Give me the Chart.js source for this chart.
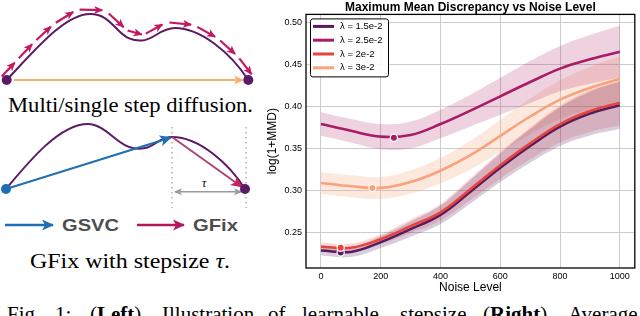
<!DOCTYPE html>
<html><head><meta charset="utf-8">
<script src="https://cdn.jsdelivr.net/npm/chart.js@4.4.1/dist/chart.umd.min.js"></script>
<style>
html,body{margin:0;padding:0;background:#fff;width:640px;height:316px;overflow:hidden;}
#wrap{position:relative;width:640px;height:316px;}
#art{position:absolute;left:0;top:0;}
#chartBox{position:absolute;left:262px;top:0;width:378px;height:296px;}
.serif{font-family:"Liberation Serif","Times New Roman",serif;fill:#000;}
.sansb{font-family:"Liberation Sans",Arial,sans-serif;font-weight:bold;fill:#4d4d4d;}
</style></head><body>
<div id="wrap">
<svg id="art" width="640" height="316" xmlns="http://www.w3.org/2000/svg">
<defs>
 <marker id="hMag" markerUnits="userSpaceOnUse" markerWidth="9" markerHeight="9" refX="8" refY="4.5" orient="auto"><path d="M0,0.5 L9,4.5 L0,8.5 L2.2,4.5 z" fill="#c51862"/></marker>
 <marker id="hOr" markerUnits="userSpaceOnUse" markerWidth="10" markerHeight="10" refX="9" refY="5" orient="auto"><path d="M0,0.5 L10,5 L0,9.5 L2.5,5 z" fill="#fdae6b"/></marker>
 <marker id="hBlue" markerUnits="userSpaceOnUse" markerWidth="12" markerHeight="12" refX="11" refY="6" orient="auto"><path d="M0,0.5 L12,6 L0,11.5 L3,6 z" fill="#1f6fb2"/></marker>
 <marker id="hFix" markerUnits="userSpaceOnUse" markerWidth="12" markerHeight="12" refX="11" refY="6" orient="auto"><path d="M0,0.5 L12,6 L0,11.5 L3,6 z" fill="#c8235f"/></marker>
 <marker id="hFixL" markerUnits="userSpaceOnUse" markerWidth="12" markerHeight="12" refX="11" refY="6" orient="auto"><path d="M0,0.5 L12,6 L0,11.5 L3,6 z" fill="#b3175c"/></marker>
 <marker id="hGr" markerUnits="userSpaceOnUse" markerWidth="8" markerHeight="8" refX="7" refY="4" orient="auto-start-reverse"><path d="M0,0.5 L8,4 L0,7.5 L2,4 z" fill="#9a9a9a"/></marker>
</defs>
<!-- top diagram -->
<path id="curve1" d="M6.7,80 C35,50 65,14 90,14 C104,14 110,22 118,30 C126,38 132,41 142,40.5 C154,40 160,28 175,28 C200,28 230,52 248.3,80" fill="none" stroke="#5c1a66" stroke-width="2"/>
<g id="dashArrows"></g>
<line x1="14" y1="80" x2="243" y2="80" stroke="#fdae6b" stroke-width="2" marker-end="url(#hOr)"/>
<circle cx="6.7" cy="80" r="5" fill="#5c1a66"/>
<circle cx="248.3" cy="80" r="5" fill="#5c1a66"/>
<text class="serif" x="8" y="112" font-size="21" textLength="245" lengthAdjust="spacingAndGlyphs">Multi/single step diffusion.</text>
<!-- bottom diagram -->
<line x1="172" y1="127" x2="172" y2="208" stroke="#b0b0b0" stroke-width="1.5" stroke-dasharray="1.5,3.5"/>
<line x1="246" y1="127" x2="246" y2="208" stroke="#b0b0b0" stroke-width="1.5" stroke-dasharray="1.5,3.5"/>
<path d="M6,189 C30,160 60,124 88,124 C100,124 110,135 120,142 C128,148 135,150 145,148 C155,146 160,137 172,137 C200,137 230,165 245,189" fill="none" stroke="#5c1a66" stroke-width="2"/>
<line x1="6" y1="189" x2="171" y2="137.5" stroke="#1f6fb2" stroke-width="2" marker-end="url(#hBlue)"/>
<line x1="172" y1="137" x2="242" y2="187" stroke="#b04470" stroke-width="2" marker-end="url(#hFix)"/>
<line x1="175" y1="191.7" x2="241" y2="191.7" stroke="#9a9a9a" stroke-width="1.5" marker-start="url(#hGr)" marker-end="url(#hGr)"/>
<text class="serif" x="202" y="187" font-size="12" font-style="italic">τ</text>
<circle cx="6" cy="189" r="5" fill="#1f6fb2"/>
<circle cx="245" cy="189" r="5" fill="#5c1a66"/>
<line x1="5" y1="225" x2="53" y2="225" stroke="#1f6fb2" stroke-width="2.5" marker-end="url(#hBlue)"/>
<text class="sansb" x="62" y="231" font-size="17" textLength="57" lengthAdjust="spacingAndGlyphs">GSVC</text>
<line x1="137" y1="225" x2="184" y2="225" stroke="#b3175c" stroke-width="2.5" marker-end="url(#hFixL)"/>
<text class="sansb" x="193" y="231" font-size="17" textLength="45" lengthAdjust="spacingAndGlyphs">GFix</text>
<text class="serif" x="30" y="268" font-size="21" textLength="200" lengthAdjust="spacingAndGlyphs">GFix with stepsize <tspan font-style="italic">τ</tspan>.</text>
<!-- caption (cut off) -->
<g class="serif" font-size="21">
 <text x="7" y="321">Fig.</text>
 <text x="55" y="321">1:</text>
 <text x="90" y="321">(<tspan font-weight="bold">Left</tspan>)</text>
 <text x="162" y="321">Illustration</text>
 <text x="268" y="321">of</text>
 <text x="302" y="321">learnable</text>
 <text x="400" y="321">stepsize.</text>
 <text x="483" y="321">(<tspan font-weight="bold">Right</tspan>)</text>
 <text x="568" y="321">Average</text>
</g>
</svg>
<div id="chartBox"><canvas id="c"></canvas></div>
</div>
<script>
// ---------- data ----------
const noiseLevels = [0, 100, 200, 300, 400, 500, 600, 700, 800, 900, 1000];
const mmdL15 = [0.2285, 0.2268, 0.2385, 0.2540, 0.2710, 0.2985, 0.3270, 0.3530, 0.3760, 0.3915, 0.4015];
const mmdL25 = [0.3790, 0.3710, 0.3640, 0.3660, 0.3790, 0.3950, 0.4120, 0.4290, 0.4450, 0.4560, 0.4650];
const mmdL20 = [0.2330, 0.2318, 0.2420, 0.2575, 0.2740, 0.3015, 0.3300, 0.3560, 0.3790, 0.3945, 0.4045];
const mmdL30 = [0.3088, 0.3050, 0.3030, 0.3100, 0.3235, 0.3420, 0.3650, 0.3880, 0.4080, 0.4220, 0.4330];
const stdL15 = [0.006, 0.006, 0.007, 0.009, 0.011, 0.014, 0.017, 0.020, 0.023, 0.026, 0.028];
const stdL25 = [0.014, 0.014, 0.015, 0.016, 0.017, 0.019, 0.022, 0.025, 0.027, 0.029, 0.031];
const stdL20 = [0.005, 0.005, 0.006, 0.008, 0.010, 0.013, 0.016, 0.019, 0.022, 0.025, 0.027];
const stdL30 = [0.013, 0.013, 0.013, 0.014, 0.015, 0.017, 0.019, 0.021, 0.023, 0.025, 0.027];
const seriesLabels = ['λ = 1.5e-2', 'λ = 2.5e-2', 'λ = 2e-2', 'λ = 3e-2'];
const minNoise = [66, 244, 66, 172];
const minMMD = [0.2262, 0.3627, 0.2317, 0.3028];
const xTicks = [0, 200, 400, 600, 800, 1000];
const yTicks = [0.25, 0.30, 0.35, 0.40, 0.45, 0.50];

// ---------- left illustration: dashed arrows along the curve ----------
(function(){
  const guide = document.getElementById('curve1');
  const g = document.getElementById('dashArrows');
  const L = guide.getTotalLength();
  const off = 6;
  function pt(s){
    const ss = Math.max(0, Math.min(L, s));
    const p = guide.getPointAtLength(ss);
    const a = guide.getPointAtLength(Math.max(0, ss - 0.8));
    const b = guide.getPointAtLength(Math.min(L, ss + 0.8));
    let tx = b.x - a.x, ty = b.y - a.y; const n = Math.hypot(tx, ty) || 1;
    tx /= n; ty /= n;
    const ext = s - ss;
    return {x: p.x + ty * off + tx * ext, y: p.y - tx * off + ty * ext};
  }
  const n = 12, seg = (L + 4) / n;
  for (let i = 0; i < n; i++) {
    const p0 = pt(-2 + i * seg + 1), p1 = pt(-2 + i * seg + seg * 0.8);
    const ln = document.createElementNS('http://www.w3.org/2000/svg', 'line');
    ln.setAttribute('x1', p0.x); ln.setAttribute('y1', p0.y);
    ln.setAttribute('x2', p1.x); ln.setAttribute('y2', p1.y);
    ln.setAttribute('stroke', '#c51862'); ln.setAttribute('stroke-width', '2.2');
    ln.setAttribute('marker-end', 'url(#hMag)');
    g.appendChild(ln);
  }
})();

// ---------- chart ----------
const colors = ['#561d5c', '#a81c65', '#e7433f', '#f9a27c'];
const bandAlpha = [0.22, 0.2, 0.2, 0.25];
const means = [mmdL15, mmdL25, mmdL20, mmdL30];
const stds = [stdL15, stdL25, stdL20, stdL30];
function rgba(hex, a){const v=parseInt(hex.slice(1),16);return `rgba(${v>>16&255},${v>>8&255},${v&255},${a})`;}
const xy = arr => noiseLevels.map((x, k) => ({x, y: arr[k]}));

const datasets = [];
means.forEach((m, i) => {
  datasets.push({label: '_bandU' + i, data: xy(m.map((v, k) => v + stds[i][k])), fill: '+1',
    backgroundColor: rgba(colors[i], bandAlpha[i]), borderWidth: 0, pointRadius: 0, tension: 0.4, order: 30 + i});
  datasets.push({label: '_bandL' + i, data: xy(m.map((v, k) => v - stds[i][k])), fill: false,
    borderWidth: 0, pointRadius: 0, tension: 0.4, order: 30 + i});
});
means.forEach((m, i) => {
  datasets.push({label: seriesLabels[i], isSeries: true, data: xy(m), borderColor: colors[i], borderWidth: 2.6,
    pointRadius: 0, tension: 0.4, fill: false, order: 2 * (4 - i) + 1});
  datasets.push({label: '_min' + i, data: [{x: minNoise[i], y: minMMD[i]}], showLine: false,
    pointRadius: 3.6, pointBackgroundColor: colors[i], pointBorderColor: '#ffffff', pointBorderWidth: 1.2,
    order: 2 * (4 - i)});
});

const framePlugin = {
  id: 'frame',
  afterDatasetsDraw(chart) {
    const {ctx, chartArea: a} = chart;
    ctx.save(); ctx.strokeStyle = '#000'; ctx.lineWidth = 1.3;
    ctx.strokeRect(a.left, a.top, a.right - a.left, a.bottom - a.top);
    ctx.restore();
  }
};
const legendPlugin = {
  id: 'boxLegend',
  afterDraw(chart) {
    const {ctx, chartArea: a} = chart;
    const items = chart.data.datasets.filter(d => d.isSeries);
    const x0 = a.left + 4, y0 = a.top + 4, w = 78, h = 58;
    ctx.save();
    ctx.fillStyle = 'rgba(255,255,255,0.9)';
    ctx.strokeStyle = '#000'; ctx.lineWidth = 1;
    ctx.beginPath();
    if (ctx.roundRect) ctx.roundRect(x0 + 0.5, y0 + 0.5, w, h, 2.5); else ctx.rect(x0 + 0.5, y0 + 0.5, w, h);
    ctx.fill(); ctx.stroke();
    ctx.font = '9.5px "Liberation Sans", Arial, sans-serif';
    ctx.textBaseline = 'middle'; ctx.fillStyle = '#000';
    items.forEach((d, k) => {
      const yy = y0 + 8 + k * 13.8;
      ctx.strokeStyle = d.borderColor; ctx.lineWidth = 3;
      ctx.beginPath(); ctx.moveTo(x0 + 3, yy); ctx.lineTo(x0 + 24, yy); ctx.stroke();
      ctx.fillText(d.label, x0 + 30, yy);
    });
    ctx.restore();
  }
};

Chart.defaults.font.family = '"Liberation Sans", Arial, sans-serif';
Chart.defaults.color = '#000';
new Chart(document.getElementById('c'), {
  type: 'line',
  data: {datasets},
  options: {
    responsive: true, maintainAspectRatio: false, animation: false, devicePixelRatio: 1,
    layout: {padding: {left: 0, right: 2, top: 0, bottom: 0}},
    plugins: {
      legend: {display: false}, tooltip: {enabled: false},
      title: {display: true, fullSize: false, text: 'Maximum Mean Discrepancy vs Noise Level',
        font: {size: 12, weight: 'bold'}, color: '#000', padding: {top: 0, bottom: 0}},
      filler: {propagate: false}
    },
    scales: {
      x: {type: 'linear', min: -50, max: 1050,
        afterBuildTicks: s => { s.ticks = xTicks.map(v => ({value: v})); },
        afterFit: s => { s.height = 28; },
        ticks: {font: {size: 9}, padding: 3, callback: v => String(v), maxRotation: 0},
        grid: {color: '#cccccc', lineWidth: 1, drawTicks: false}, border: {display: false},
        title: {display: true, text: 'Noise Level', font: {size: 12}, padding: {top: 0, bottom: 1.4}}},
      y: {type: 'linear', min: 0.2077, max: 0.5095,
        afterBuildTicks: s => { s.ticks = yTicks.map(v => ({value: v})); },
        afterFit: s => { s.width = 44; },
        ticks: {font: {size: 9}, padding: 4, callback: v => v.toFixed(2)},
        grid: {color: '#cccccc', lineWidth: 1, drawTicks: false}, border: {display: false},
        title: {display: true, text: 'log(1+MMD)', font: {size: 12}, padding: {top: 3.3, bottom: 0}}}
    }
  },
  plugins: [framePlugin, legendPlugin]
});
</script>
</body></html>
